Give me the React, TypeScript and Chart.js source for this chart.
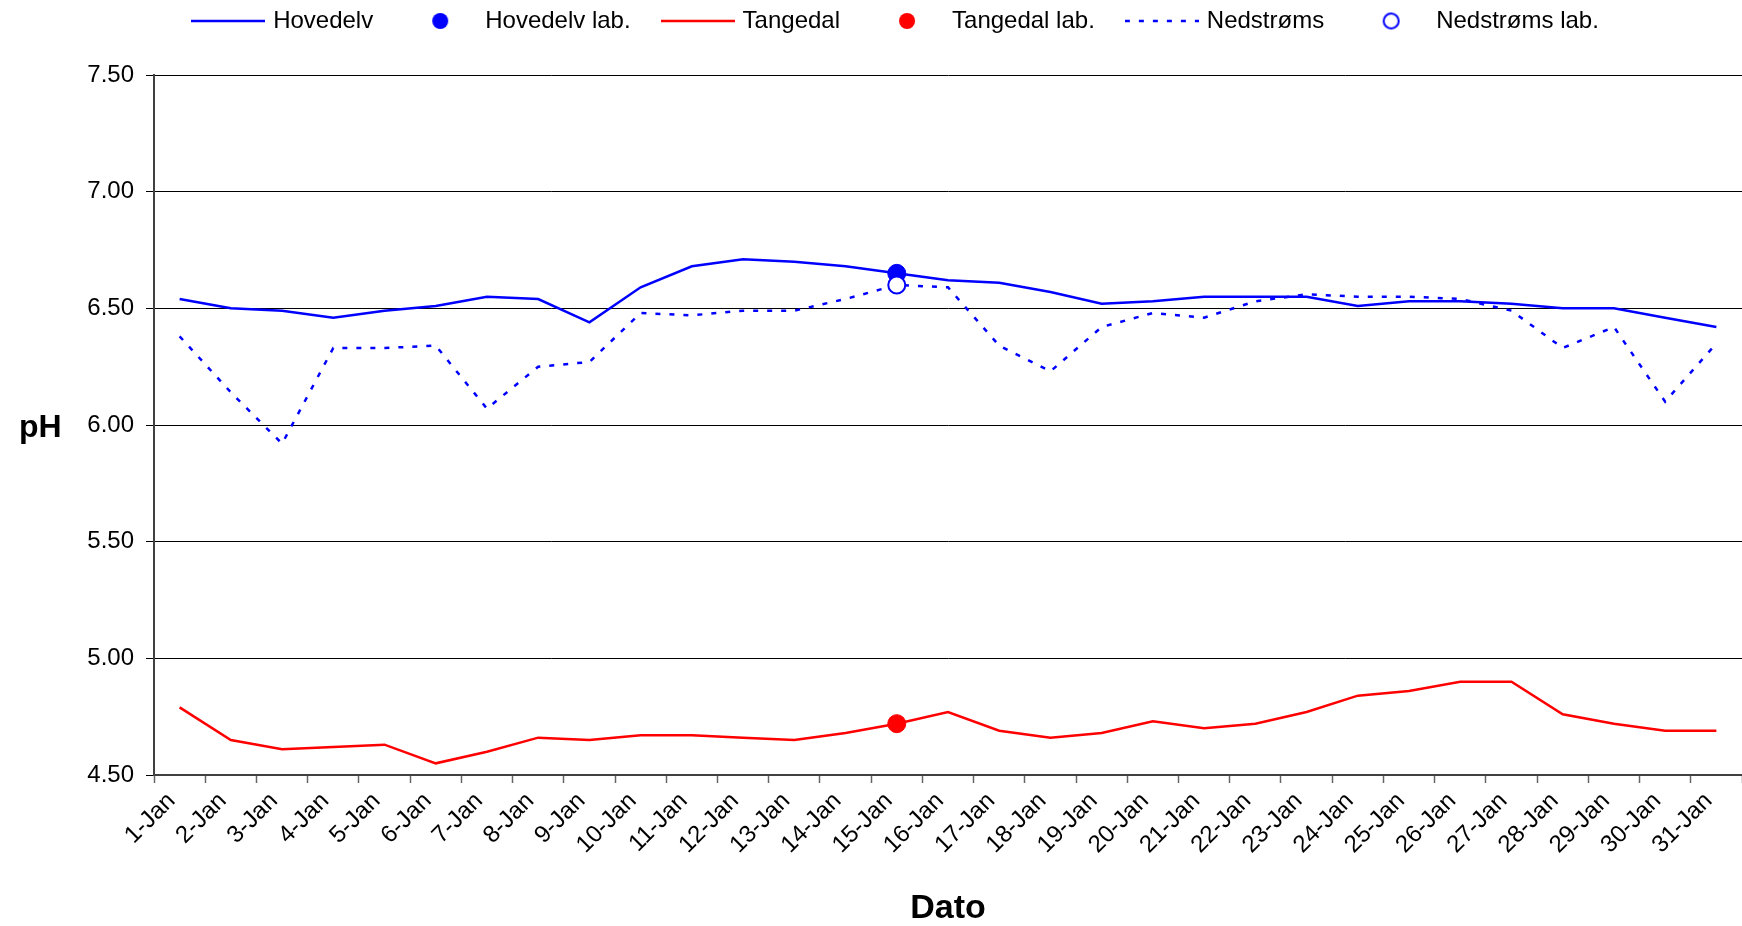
import React, { useEffect, useRef } from 'react';
import { Chart, registerables } from 'chart.js';

Chart.register(...registerables);

// ---------- data ----------
const dates = [
  '1-Jan', '2-Jan', '3-Jan', '4-Jan', '5-Jan', '6-Jan', '7-Jan', '8-Jan', '9-Jan', '10-Jan',
  '11-Jan', '12-Jan', '13-Jan', '14-Jan', '15-Jan', '16-Jan', '17-Jan', '18-Jan', '19-Jan', '20-Jan',
  '21-Jan', '22-Jan', '23-Jan', '24-Jan', '25-Jan', '26-Jan', '27-Jan', '28-Jan', '29-Jan', '30-Jan', '31-Jan',
];

const hovedelv = [
  6.54, 6.50, 6.49, 6.46, 6.49, 6.51, 6.55, 6.54, 6.44, 6.59, 6.68,
  6.71, 6.70, 6.68, 6.65, 6.62, 6.61, 6.57, 6.52, 6.53, 6.55,
  6.55, 6.55, 6.51, 6.53, 6.53, 6.52, 6.50, 6.50, 6.46, 6.42,
];

const tangedal = [
  4.79, 4.65, 4.61, 4.62, 4.63, 4.55, 4.60, 4.66, 4.65, 4.67, 4.67,
  4.66, 4.65, 4.68, 4.72, 4.77, 4.69, 4.66, 4.68, 4.73, 4.70,
  4.72, 4.77, 4.84, 4.86, 4.90, 4.90, 4.76, 4.72, 4.69, 4.69,
];

const nedstroms = [
  6.38, 6.14, 5.92, 6.33, 6.33, 6.34, 6.07, 6.25, 6.27, 6.48, 6.47,
  6.49, 6.49, 6.54, 6.60, 6.59, 6.34, 6.23, 6.42, 6.48, 6.46,
  6.53, 6.56, 6.55, 6.55, 6.54, 6.49, 6.33, 6.42, 6.10, 6.35,
];

const hovedelvLab = [{ x: '15-Jan', y: 6.65 }];
const tangedalLab = [{ x: '15-Jan', y: 4.72 }];
const nedstromsLab = [{ x: '15-Jan', y: 6.60 }];

const yTicks = [4.5, 5.0, 5.5, 6.0, 6.5, 7.0, 7.5];

const seriesNames = ['Hovedelv', 'Hovedelv lab.', 'Tangedal', 'Tangedal lab.', 'Nedstrøms', 'Nedstrøms lab.'];

// ---------- styles ----------
const W = 1742;
const H = 926;
const FONT = '"Liberation Sans", Arial, Helvetica, sans-serif';
const BLUE = '#0000FF';
const RED = '#FF0000';
const DASH = [5, 9];

function lineSymbol(color: string, dash: number[]) {
  const c = document.createElement('canvas');
  c.width = 74;
  c.height = 6;
  const g = c.getContext('2d')!;
  g.strokeStyle = color;
  g.lineWidth = 2.5;
  g.setLineDash(dash);
  g.beginPath();
  g.moveTo(0, 3);
  g.lineTo(74, 3);
  g.stroke();
  return c;
}

function dotSymbol(fill: string, stroke: string, r: number, lw: number) {
  const c = document.createElement('canvas');
  const s = Math.ceil(2 * r + lw + 2);
  c.width = s;
  c.height = s;
  const g = c.getContext('2d')!;
  g.beginPath();
  g.arc(s / 2, s / 2, r, 0, Math.PI * 2);
  g.fillStyle = fill;
  g.fill();
  if (lw > 0) {
    g.strokeStyle = stroke;
    g.lineWidth = lw;
    g.stroke();
  }
  return c;
}

const LEGEND_DX = 26;
const LEGEND_TOP = -25;

const helperPlugin = {
  id: 'helperPlugin',
  afterLayout(chart: any) {
    const lg = chart.legend;
    if (lg) {
      const dy = LEGEND_TOP - lg.top;
      lg.top += dy;
      lg.bottom += dy;
      lg.left += LEGEND_DX;
      lg.right += LEGEND_DX;
    }
  },
  afterDraw(chart: any) {
    const ctx = chart.ctx;
    const area = chart.chartArea;
    ctx.save();
    ctx.font = `bold 32px ${FONT}`;
    ctx.fillStyle = '#000';
    ctx.textAlign = 'left';
    ctx.textBaseline = 'middle';
    ctx.fillText('pH', 19, (area.top + area.bottom) / 2 + 3);
    ctx.restore();
  },
};

export default function App() {
  const ref = useRef<HTMLCanvasElement | null>(null);

  useEffect(() => {
    const canvas = ref.current;
    if (!canvas) return;

    const symbols = [
      lineSymbol(BLUE, []),
      dotSymbol(BLUE, BLUE, 8, 0),
      lineSymbol(RED, []),
      dotSymbol(RED, RED, 8, 0),
      lineSymbol(BLUE, DASH),
      dotSymbol('#FFFFFF', BLUE, 7.5, 2),
    ];

    const chart = new Chart(canvas, {
      type: 'line',
      data: {
        labels: dates,
        datasets: [
          { label: seriesNames[0], data: hovedelv, borderColor: BLUE, backgroundColor: BLUE, borderWidth: 2.5, pointRadius: 0, order: 3 },
          { label: seriesNames[1], data: hovedelvLab as any, showLine: false, pointRadius: 9, pointBackgroundColor: BLUE, pointBorderColor: BLUE, pointBorderWidth: 1, order: 1 },
          { label: seriesNames[2], data: tangedal, borderColor: RED, backgroundColor: RED, borderWidth: 2.5, pointRadius: 0, order: 3 },
          { label: seriesNames[3], data: tangedalLab as any, showLine: false, pointRadius: 9, pointBackgroundColor: RED, pointBorderColor: RED, pointBorderWidth: 1, order: 1 },
          { label: seriesNames[4], data: nedstroms, borderColor: BLUE, backgroundColor: BLUE, borderWidth: 2.5, borderDash: DASH, pointRadius: 0, order: 2 },
          { label: seriesNames[5], data: nedstromsLab as any, showLine: false, pointRadius: 8.5, pointBackgroundColor: '#FFFFFF', pointBorderColor: BLUE, pointBorderWidth: 2, order: 0 },
        ],
      },
      options: {
        responsive: false,
        animation: false,
        devicePixelRatio: 1,
        events: [],
        layout: { autoPadding: false, padding: { top: 7, left: 0, right: 0, bottom: 0 } },
        font: { family: FONT },
        plugins: {
          tooltip: { enabled: false },
          legend: {
            display: true,
            position: 'top',
            align: 'center',
            labels: {
              usePointStyle: true,
              pointStyleWidth: 66,
              boxHeight: 11,
              padding: 34,
              color: '#000',
              font: { family: FONT, size: 24 },
              generateLabels: () =>
                seriesNames.map((name, i) => ({
                  text: name,
                  pointStyle: symbols[i] as any,
                  fillStyle: 'transparent',
                  strokeStyle: 'transparent',
                  lineWidth: 0,
                  fontColor: '#000',
                  hidden: false,
                  datasetIndex: i,
                })),
            },
          },
        },
        scales: {
          x: {
            type: 'category',
            offset: true,
            afterFit: (scale: any) => {
              scale.height = 151;
              scale.paddingRight = 0;
            },
            grid: {
              display: true,
              offset: true,
              drawOnChartArea: false,
              drawTicks: true,
              tickLength: 8,
              tickColor: '#666',
              tickWidth: 1.5,
            },
            border: { display: true, color: '#404040', width: 2 },
            ticks: {
              autoSkip: false,
              maxRotation: 45,
              minRotation: 45,
              labelOffset: -8,
              padding: 4,
              color: '#000',
              font: { family: FONT, size: 24 },
            },
            title: {
              display: true,
              text: 'Dato',
              color: '#000',
              font: { family: FONT, size: 34, weight: 'bold', lineHeight: 1 },
              padding: { top: 0, bottom: 0 },
            },
          },
          y: {
            type: 'linear',
            min: yTicks[0],
            max: yTicks[yTicks.length - 1],
            afterFit: (scale: any) => {
              scale.width = 154;
            },
            afterBuildTicks: (scale: any) => {
              scale.ticks = yTicks.map((v) => ({ value: v }));
            },
            grid: {
              color: '#000',
              lineWidth: 1,
              drawTicks: true,
              tickLength: 8,
              tickColor: '#000',
            },
            border: { display: true, color: '#404040', width: 2 },
            ticks: {
              padding: 12,
              color: '#000',
              font: { family: FONT, size: 24 },
              callback: (v: any) => Number(v).toFixed(2),
            },
          },
        },
      },
      plugins: [helperPlugin],
    } as any);

    return () => chart.destroy();
  }, []);

  return (
    <div style={{ position: 'fixed', left: 0, top: 0, width: W, height: H, background: '#fff' }}>
      <canvas ref={ref} width={W} height={H} style={{ display: 'block', width: W, height: H }} />
    </div>
  );
}
